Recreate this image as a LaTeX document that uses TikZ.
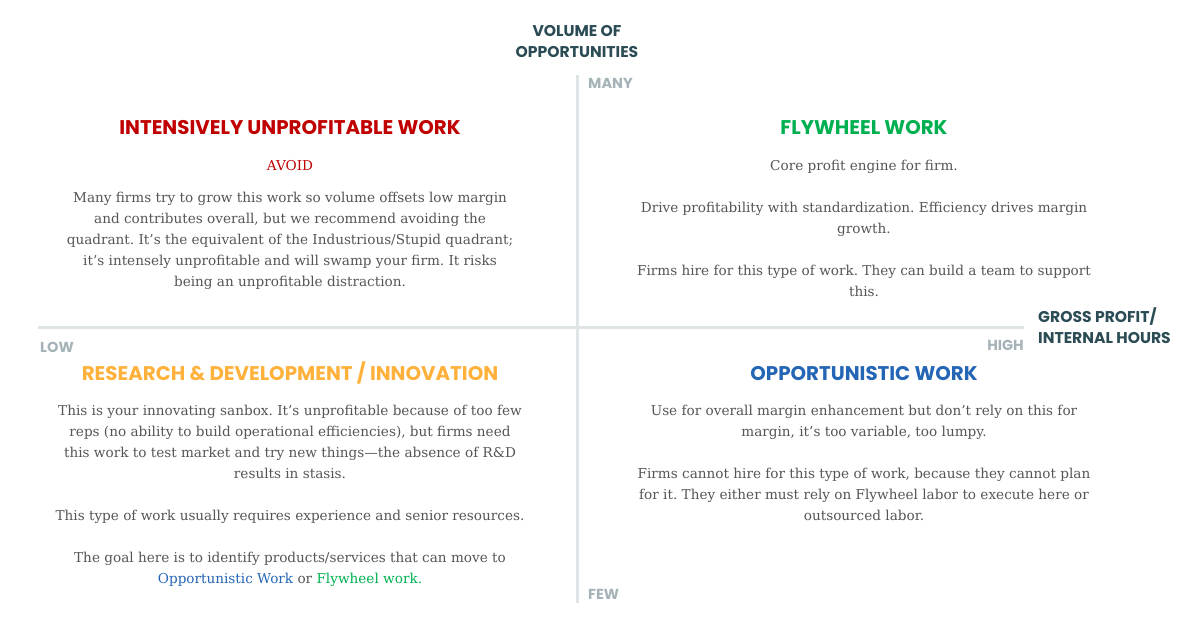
\documentclass[tikz,border=0pt]{standalone}
\usepackage{fontspec}
\setmainfont{DejaVu Serif}
\setsansfont{Poppins}
\usetikzlibrary{positioning}
\definecolor{axisline}{HTML}{DFE4E6}
\definecolor{tickgray}{HTML}{A5B3B8}
\definecolor{axisteal}{HTML}{2B4B55}
\definecolor{bodygray}{HTML}{555555}
\definecolor{qred}{HTML}{C00000}
\definecolor{qgreen}{HTML}{00B050}
\definecolor{qorange}{HTML}{FFB13B}
\definecolor{qblue}{HTML}{2465B5}
\frenchspacing

\begin{document}
\begin{tikzpicture}[
    x=1pt, y=-1pt,
    axlab/.style={font=\sffamily\bfseries\fontsize{15.6}{21}\selectfont, text=axisteal,
        inner sep=0pt},
    tick/.style={font=\sffamily\bfseries\fontsize{14.5}{15}\selectfont, text=tickgray,
        inner sep=0pt},
    head/.style={font=\sffamily\bfseries\fontsize{19.8}{21}\selectfont, inner sep=0pt,
        anchor=base},
    body/.style={font=\fontsize{13.6}{21}\selectfont, text=bodygray, align=center,
        inner sep=0pt, anchor=base},
    ax/.style={axisline, line width=3pt}
]
\useasboundingbox (0,0) rectangle (1200,627);
% axes
\coordinate (vtop) at (577,75);
\coordinate (vbot) at (577,603);
\coordinate (hleft) at (38,327);
\coordinate (hright) at (1024,327);
\draw[ax] (vtop) -- (vbot);
\draw[ax] (hleft) -- (hright);
\node[axlab, align=center, anchor=base] (vol) at (577,57) {VOLUME OF\\OPPORTUNITIES};
\node[axlab, align=left, anchor=base west] (gp) at (1038,343) {GROSS PROFIT/\\INTERNAL HOURS};
\node[tick, anchor=base west] (many) at (588,88) {MANY};
\node[tick, anchor=base west] (few) at (588,599) {FEW};
\node[tick, anchor=base west] (low) at (40,352) {LOW};
\node[tick, anchor=base east] (high) at (1024,350) {HIGH};

% top left
\node[head, text=qred] (iu) at (290,134) {INTENSIVELY UNPROFITABLE WORK};
\node[body, text=qred] (avoid) at (290,170) {AVOID};
\node[body] (iutxt) at (290,286) {Many firms try to grow this work so volume offsets low margin\\
  and contributes overall, but we recommend avoiding the\\
  quadrant. It’s the equivalent of the Industrious/Stupid quadrant;\\
  it’s intensely unprofitable and will swamp your firm. It risks\\
  being an unprofitable distraction.};

% top right
\node[head, text=qgreen] (fw) at (864,134) {FLYWHEEL WORK};
\node[body] (fwtxt) at (864,296) {Core profit engine for firm.\\[21pt]
  Drive profitability with standardization. Efficiency drives margin\\
  growth.\\[21pt]
  Firms hire for this type of work. They can build a team to support\\
  this.};

% bottom left
\node[head, text=qorange] (rd) at (290,380) {RESEARCH \& DEVELOPMENT / INNOVATION};
\node[body] (rdtxt) at (290,583) {This is your innovating sanbox. It’s unprofitable because of too few\\
  reps (no ability to build operational efficiencies), but firms need\\
  this work to test market and try new things—the absence of R\&D\\
  results in stasis.\\[21pt]
  This type of work usually requires experience and senior resources.\\[21pt]
  The goal here is to identify products/services that can move to\\
  {\color{qblue}Opportunistic Work} or {\color{qgreen}Flywheel work.}};

% bottom right
\node[head, text=qblue] (ow) at (864,380) {OPPORTUNISTIC WORK};
\node[body] (owtxt) at (864,520) {Use for overall margin enhancement but don’t rely on this for\\
  margin, it’s too variable, too lumpy.\\[21pt]
  Firms cannot hire for this type of work, because they cannot plan\\
  for it. They either must rely on Flywheel labor to execute here or\\
  outsourced labor.};
\end{tikzpicture}
\end{document}
